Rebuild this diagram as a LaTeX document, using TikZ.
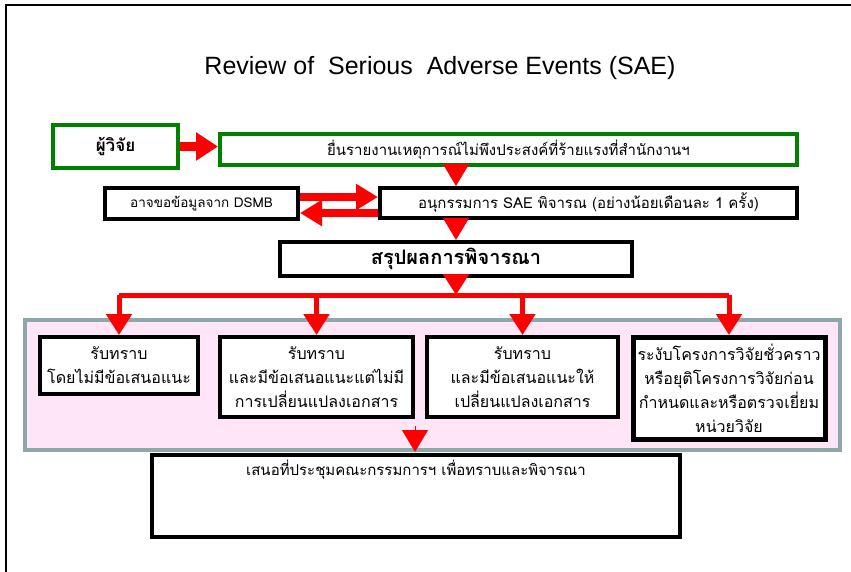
\documentclass[tikz,border=0pt]{standalone}
\usepackage{fontspec}
\setmainfont{Liberation Sans}
\newfontfamily\thaifont[Script=Thai]{Loma}
\usetikzlibrary{arrows.meta}
\definecolor{boxgreen}{RGB}{0,128,0}
\definecolor{pinkfill}{RGB}{255,229,245}
\definecolor{framegray}{RGB}{140,168,168}

\begin{document}
\begin{tikzpicture}[x=1pt, y=-1pt,
        box/.style = {draw, line width=4pt, fill=white, inner sep=2pt, align=center,
                      font=\thaifont\fontsize{15}{24}\selectfont},
        gbox/.style = {box, draw=boxgreen},
        rbox/.style = {box, anchor=north, font=\thaifont\fontsize{16}{24}\selectfont},
        bigarrow/.style = {draw=red, line width=9pt, -{Triangle[length=22pt,width=27pt]}},
        redarrow/.style = {draw=red, line width=8pt, -{Triangle[length=22pt,width=25pt]}},
        headonly/.style = {draw=red, line width=1pt, -{Triangle[length=22pt,width=26pt]}},
        downarrow/.style = {draw=red, line width=5pt, -{Triangle[length=21pt,width=25pt]}},
        redline/.style = {draw=red, line width=5pt}]
                \useasboundingbox (0,0) rectangle (851,572);
                \draw[line width=2pt] (851,5) -- (6,5) -- (6,572);

                \node(title) at (440,68) {\fontsize{25}{29}\selectfont Review of\ \ Serious\ \ Adverse Events (SAE)};

                \node[gbox, minimum width=125pt, minimum height=43pt](res) at (115.5,146.5) {\bfseries\fontsize{17}{20}\selectfont ผู้วิจัย};
                \node[gbox, minimum width=577pt, minimum height=31pt](rep) at (508.5,149.5) {ยื่นรายงานเหตุการณ์ไม่พึงประสงค์ที่ร้ายแรงที่สำนักงานฯ};
                \node[box, minimum width=193pt, minimum height=31pt, font=\thaifont\fontsize{13.5}{20}\selectfont](dsmb) at (201.5,203.5) {อาจขอข้อมูลจาก DSMB};
                \node[box, minimum width=417pt, minimum height=30pt](sub) at (588.5,203) {อนุกรรมการ SAE พิจารณ (อย่างน้อยเดือนละ 1 ครั้ง)};
                \node[box, minimum width=352pt, minimum height=34pt](sum) at (456,259) {\bfseries\fontsize{20}{24}\selectfont สรุปผลการพิจารณา};

                \node[draw=framegray, fill=pinkfill, line width=4pt, minimum width=815pt, minimum height=130pt](pink) at (432.5,385) {};
                \node[rbox, minimum width=158pt, minimum height=57pt](r1) at (119,335) {รับทราบ\\โดยไม่มีข้อเสนอแนะ};
                \node[rbox, minimum width=193pt, minimum height=80pt](r2) at (316.5,335) {รับทราบ\\และมีข้อเสนอแนะแต่ไม่มี\\การเปลี่ยนแปลงเอกสาร};
                \node[rbox, minimum width=191pt, minimum height=80pt](r3) at (522.5,335) {รับทราบ\\และมีข้อเสนอแนะให้\\เปลี่ยนแปลงเอกสาร};
                \node[rbox, line width=5pt, minimum width=192pt, minimum height=102pt](r4) at (729,335) {ระงับโครงการวิจัยชั่วคราว\\หรือยุติโครงการวิจัยก่อน\\กำหนดและหรือตรวจเยี่ยม\\หน่วยวิจัย};
                \node[box, minimum width=528pt, text height=18pt, text depth=60pt](meet) at (416,496) {เสนอที่ประชุมคณะกรรมการฯ เพื่อทราบและพิจารณา};

                \coordinate(bar) at (456,295);
                \coordinate(tri) at (415,426);

                \draw[bigarrow] (res.east) -- (res.east -| rep.west);
                \draw[headonly] (rep.south -| sum) -- (sub.north -| sum);
                \draw[redarrow] ([yshift=6.5pt]dsmb.east) -- ([yshift=6.5pt]dsmb.east -| sub.west);
                \draw[redarrow] ([yshift=-9.5pt]dsmb.east -| sub.west) -- ([yshift=-9.5pt]dsmb.east);
                \draw[headonly] (sub.south -| sum) -- (sum.north);
                \draw[downarrow] (sum.south) -- (bar);
                \draw[redline] (bar -| r1) -- (bar -| r4);
                \draw[downarrow] (bar -| r1) -- (r1.north);\draw[downarrow] (bar -| r2) -- (r2.north);
                \draw[downarrow] (bar -| r3) -- (r3.north);\draw[downarrow] (bar -| r4) -- (r4.north);
                \draw[headonly] (tri) -- (tri |- pink.south);
            \end{tikzpicture}
\end{document}
